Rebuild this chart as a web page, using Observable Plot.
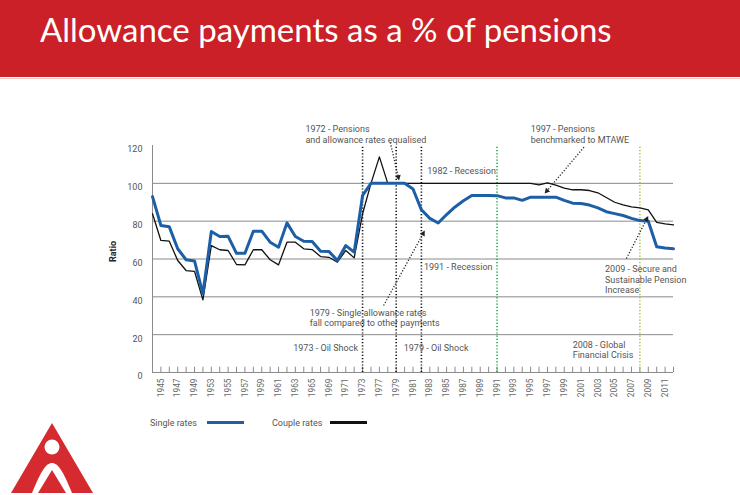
<!DOCTYPE html>
<html><head><meta charset="utf-8">
<script src="https://cdn.jsdelivr.net/npm/d3@7"></script>
<script src="https://cdn.jsdelivr.net/npm/@observablehq/plot@0.6"></script>
<style>
html,body{margin:0;padding:0;background:#fff;width:740px;height:495px;overflow:hidden;position:relative;font-family:Roboto,sans-serif}
#header{position:absolute;left:0;top:0;width:740px;height:77px;background:#cb2027}
#hline{position:absolute;left:0;top:78px;width:740px;height:1px;background:#f2c6c6}
#title{position:absolute;left:40px;top:7px;color:#fff;font-family:Lato,sans-serif;font-size:33px;line-height:44px;white-space:nowrap}
#chart{position:absolute;left:0;top:115px}
.leg{position:absolute;top:417px;font-size:9px;color:#555;line-height:12px;white-space:nowrap}
.sw{position:absolute}
#logo{position:absolute;left:0;top:415px}
</style>
</head><body>
<div id="header"><div id="title">Allowance payments as a % of pensions</div></div>
<div id="hline"></div>
<div id="chart"></div>
<div class="leg" style="left:150px">Single rates</div>
<div class="sw" style="left:207px;top:421px;width:37px;height:3px;background:#1d5fa6"></div>
<div class="leg" style="left:272px">Couple rates</div>
<div class="sw" style="left:330px;top:421px;width:37px;height:2.5px;background:#111"></div>
<svg id="logo" width="100" height="80" viewBox="0 415 100 80">
  <polygon points="52,423 11,493 93,493" fill="#d42a30"/>
  <path d="M32,493 C41,471 46,463 52,463 C58,463 63,471 72,493 Z" fill="#fff"/>
  <polygon points="38,493 52,470 66,493" fill="#d42a30"/>
  <circle cx="52" cy="447" r="7.5" fill="#fff"/>
</svg>
<script>
const categories = ["1944","1945","1946","1947","1948","1949","1951","1953","1954","1955","1956","1957","1958","1959","1960","1961","1962","1963","1964","1965","1967","1969","1970","1971","1972","1973","1975","1977","1978","1979","1980","1981","1982","1983","1984","1985","1986","1987","1988","1989","1990","1991","1992","1993","1994","1995","1996","1997","1998","1999","2000","2001","2002","2003","2004","2005","2006","2007","2008","2009","2010","2011","2012"];
const tickLabels = ["1945","1947","1949","1953","1955","1957","1959","1961","1963","1965","1969","1971","1973","1977","1979","1981","1983","1985","1987","1989","1991","1993","1995","1997","1999","2001","2003","2005","2007","2009","2011"];
const singleRates = [93,77.7,77,65.4,59.6,59,41.6,74.5,71.9,72,63,63,74.7,74.7,68.9,66.2,79.1,71.9,69.4,69.2,64.1,64,59.2,67.1,63.6,93.6,100,100,100,100,100,97,86,81.5,79,83.5,87.5,90.8,93.6,93.6,93.6,93.5,92.3,92.3,91,92.7,92.7,92.7,92.7,91,89.5,89.3,88.5,87,85,84,83,81.5,80.3,80,66.5,65.8,65.4];
const coupleRates = [83.9,69.8,69.4,59.2,53.9,53.5,38.4,67.1,64.9,64.5,57.1,56.9,64.9,64.9,59.6,56.9,68.9,68.9,65.4,65,61.3,60.9,58.3,64.5,60.6,83.9,100,114,100,100,100,100,100,100,100,100,100,100,100,100,100,100,100,100,100,100,99.2,100.3,99,97.5,96.6,96.6,96.2,95,92.5,90,88.6,87.5,87,86,79.4,78.6,78];
const yTicks = [0,20,40,60,80,100,120];
const gridValues = [20,40,60,80,100];
const blackEvents = ["1973","1979","1982"];
const greenEvents = ["1991"];
const limeEvents = ["2008"];
const annotations = [
  {x:18.2, y:126.1, text:"1972 - Pensions\nand allowance rates equalised"},
  {x:45.0, y:126.1, text:"1997 - Pensions\nbenchmarked to MTAWE"},
  {x:32.7, y:106.8, text:"1982 - Recession"},
  {x:32.3, y:56.2, text:"1991 - Recession"},
  {x:18.7, y:29.1, text:"1979 - Single allowance rates\nfall compared to other payments"},
  {x:53.85, y:49.3, text:"2009 - Secure and\nSustainable Pension\nIncrease"},
  {x:16.75, y:13.2, text:"1973 - Oil Shock"},
  {x:29.9, y:13.2, text:"1979 - Oil Shock"},
  {x:50.0, y:12.2, text:"2008 - Global\nFinancial Crisis"}
];
const arrows = [
  {x1:28.3, y1:121.6, x2:29.3, y2:102.4},
  {x1:51.35, y1:119.1, x2:46.8, y2:95.3},
  {x1:27.5, y1:35.4, x2:32.3, y2:74.2},
  {x1:56.4, y1:60.3, x2:58.9, y2:81.9}
];
const idx = c => categories.indexOf(c);
const plot = Plot.plot({
  width: 740, height: 290,
  marginLeft: 152, marginRight: 67, marginTop: 30, marginBottom: 33,
  style: {fontFamily: "Roboto, sans-serif", color: "#555", background: "transparent", overflow: "visible"},
  x: {type: "linear", domain: [0, categories.length - 1]},
  y: {domain: [0, 120]},
  marks: [
    Plot.ruleY(gridValues, {stroke: "#8a8a8a", strokeWidth: 1, strokeOpacity: 1}),
    Plot.ruleY([0], {stroke: "#8a8a8a"}),
    Plot.ruleX([0], {y1: 0, y2: 120, stroke: "#8a8a8a"}),
    Plot.ruleX(categories.map((c, i) => i), {x: d => d, y1: 0, y2: 2.8, stroke: "#8a8a8a"}),
    Plot.ruleX(blackEvents, {x: idx, y1: 0, y2: 120, stroke: "#111", strokeWidth: 1.6, strokeDasharray: "1.2,2"}),
    Plot.ruleX(greenEvents, {x: idx, y1: 0, y2: 120, stroke: "#1fa83a", strokeWidth: 1.6, strokeDasharray: "1.2,2"}),
    Plot.ruleX(limeEvents, {x: idx, y1: 0, y2: 120, stroke: "#9ccb3c", strokeWidth: 1.6, strokeDasharray: "1.2,2"}),
    Plot.line(coupleRates, {x: (d, i) => i, y: d => d, stroke: "#111", strokeWidth: 1.3}),
    Plot.line(singleRates, {x: (d, i) => i, y: d => d, stroke: "#1d5fa6", strokeWidth: 3}),
    Plot.link(arrows, {x1: "x1", y1: "y1", x2: "x2", y2: "y2", stroke: "#222", strokeWidth: 1.3, strokeDasharray: "1.2,1.8", markerEnd: "arrow"}),
    Plot.text(annotations, {x: "x", y: "y", text: "text", textAnchor: "start", lineAnchor: "middle", lineHeight: 1.18, fontSize: 9, fill: "#555"}),
    Plot.axisX({ticks: tickLabels.map(idx), tickFormat: i => categories[i], tickRotate: -90, tickSize: 0, tickPadding: 6, fontSize: 8.3, label: null, fill: "#666"}),
    Plot.axisY({ticks: yTicks, tickSize: 0, tickPadding: 10, fontSize: 9, label: null, dy: 4, fill: "#555"}),
    Plot.text(["Ratio"], {frameAnchor: "left", rotate: -90, dx: -39, dy: 3, fontSize: 9, fontWeight: "bold", fill: "#222"})
  ]
});
document.getElementById("chart").appendChild(plot);
plot.querySelectorAll("marker path").forEach(p => {
  p.setAttribute("d", "M-4,-3.2L2,0L-4,3.2Z");
  p.setAttribute("fill", "#222");
  p.setAttribute("stroke", "none");
});
</script>
</body></html>
